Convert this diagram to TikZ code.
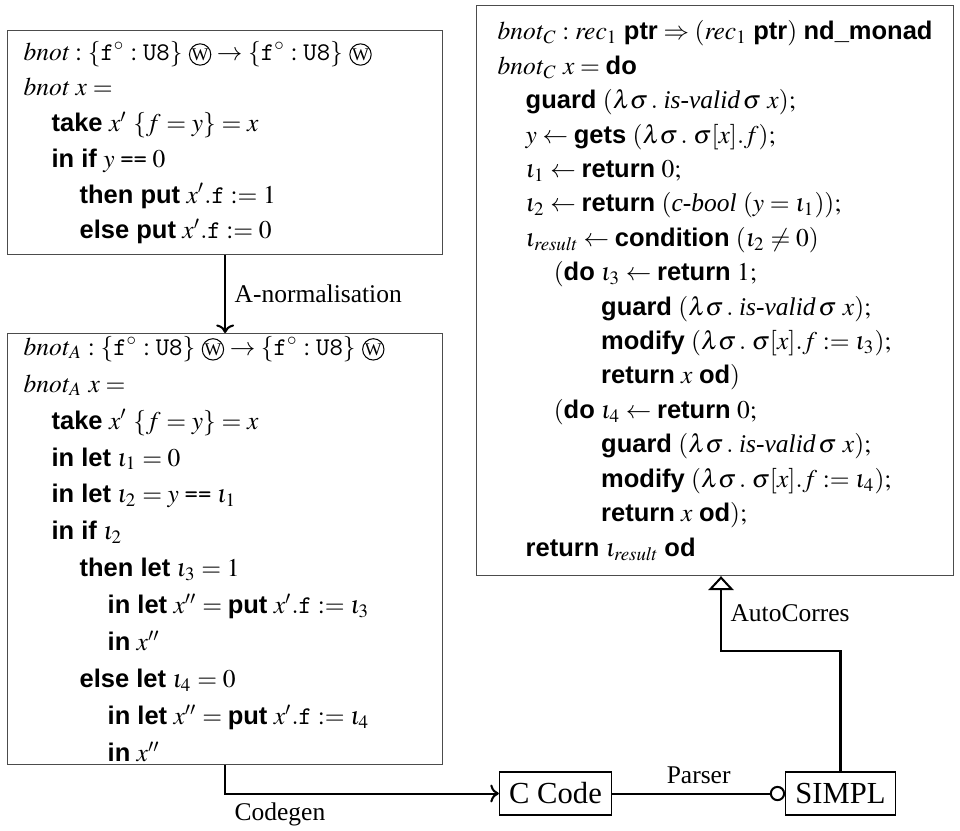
\documentclass[tikz,border=0pt]{standalone}
\usepackage{mathptmx}
\usepackage{fontspec}
\setmainfont{Liberation Serif}
\setsansfont{Liberation Sans}
\usetikzlibrary{arrows.meta}

% keywords in bold sans, indentation step, typewriter field name
\newcommand{\kw}[1]{\textsf{\bfseries #1}}
\newcommand{\ind}{\hspace*{11pt}}
\newcommand{\ttf}{\texttt{f}}
% circled W (writable record)
\newcommand{\cw}{\mbox{\tikz[baseline=(wmark.base), x=1pt, y=1pt]
  \node[circle, draw=black, line width=0.4pt, inner sep=0.1pt,
        font=\fontsize{7}{7}\selectfont] (wmark) {W};}}
\newcommand{\ufield}{\{\ttf^{\circ}:\texttt{U8}\}}
\newcommand{\dopad}{\phantom{(\kw{do}\ }}

\begin{document}
\begin{tikzpicture}[x=0.3922pt,y=-0.3922pt,
  codebox/.style={draw=black!70, line width=0.5pt, inner sep=0pt, anchor=north west},
  codetext/.style={align=left, inner sep=0pt, anchor=west},
  smallbox/.style={draw=black, line width=0.5pt, inner xsep=3.8pt, minimum height=16.9pt,
    font=\fontsize{12}{14}\selectfont},
  conn/.style={line width=0.8pt, draw=black},
  lbl/.style={font=\fontsize{10}{12}\selectfont}]
\useasboundingbox (0,0) rectangle (960,830);

% ---- source COGENT function
\node[codebox, minimum width=170.6pt, minimum height=87.85pt] (b1) at (7,30) {};
\node[codetext, font=\fontsize{10}{14}\selectfont] (t1) at ([xshift=6.3pt]b1.west) {%
$\mathit{bnot}:\ufield\ \cw\to\ufield\ \cw$\\
$\mathit{bnot}\ x=$\\
\ind$\kw{take}\ x'\ \{f=y\}=x$\\
\ind$\kw{in if}\ y\mathrel{\texttt{==}}0$\\
\ind\ind$\kw{then put}\ x'.\ttf:=1$\\
\ind\ind$\kw{else put}\ x'.\ttf:=0$};

% ---- A-normal form
\node[codebox, minimum width=170.6pt, minimum height=169pt] (b2) at (7,333) {};
\node[codetext, font=\fontsize{10}{14.5}\selectfont] (t2) at ([xshift=6.3pt]b2.west) {%
$\mathit{bnot}_A:\ufield\ \cw\to\ufield\ \cw$\\
$\mathit{bnot}_A\ x=$\\
\ind$\kw{take}\ x'\ \{f=y\}=x$\\
\ind$\kw{in let}\ \iota_1=0$\\
\ind$\kw{in let}\ \iota_2=y\mathrel{\texttt{==}}\iota_1$\\
\ind$\kw{in if}\ \iota_2$\\
\ind\ind$\kw{then let}\ \iota_3=1$\\
\ind\ind\ind$\kw{in let}\ x''=\kw{put}\ x'.\ttf:=\iota_3$\\
\ind\ind\ind$\kw{in}\ x''$\\
\ind\ind$\kw{else let}\ \iota_4=0$\\
\ind\ind\ind$\kw{in let}\ x''=\kw{put}\ x'.\ttf:=\iota_4$\\
\ind\ind\ind$\kw{in}\ x''$};

% ---- monadic C embedding
\node[codebox, minimum width=187.1pt, minimum height=223.5pt] (b3) at (476,5) {};
\node[codetext, font=\fontsize{10}{13.5}\selectfont] (t3) at ([xshift=8.3pt]b3.west) {%
$\mathit{bnot}_C:\mathit{rec}_1\ \kw{ptr}\Rightarrow(\mathit{rec}_1\ \kw{ptr})\ \kw{nd\_monad}$\\
$\mathit{bnot}_C\ x=\kw{do}$\\
\ind$\kw{guard}\ (\lambda\sigma\,.\;\textit{is-valid}\,\sigma\ x);$\\
\ind$y\leftarrow\kw{gets}\ (\lambda\sigma\,.\;\sigma[x].f);$\\
\ind$\iota_1\leftarrow\kw{return}\ 0;$\\
\ind$\iota_2\leftarrow\kw{return}\ (\textit{c-bool}\ (y=\iota_1));$\\
\ind$\iota_{\mathit{result}}\leftarrow\kw{condition}\ (\iota_2\neq0)$\\
\ind\ind$(\kw{do}\ \iota_3\leftarrow\kw{return}\ 1;$\\
\ind\ind$\dopad\kw{guard}\ (\lambda\sigma\,.\;\textit{is-valid}\,\sigma\ x);$\\
\ind\ind$\dopad\kw{modify}\ (\lambda\sigma\,.\;\sigma[x].f:=\iota_3);$\\
\ind\ind$\dopad\kw{return}\ x\ \kw{od})$\\
\ind\ind$(\kw{do}\ \iota_4\leftarrow\kw{return}\ 0;$\\
\ind\ind$\dopad\kw{guard}\ (\lambda\sigma\,.\;\textit{is-valid}\,\sigma\ x);$\\
\ind\ind$\dopad\kw{modify}\ (\lambda\sigma\,.\;\sigma[x].f:=\iota_4);$\\
\ind\ind$\dopad\kw{return}\ x\ \kw{od});$\\
\ind$\kw{return}\ \iota_{\mathit{result}}\ \kw{od}$};

% ---- C code and SIMPL
\node[smallbox] (ccode) at (555.5,793.5) {C Code};
\node[smallbox] (simpl) at (840.5,793.5) {SIMPL};
\coordinate (acbend) at (721,651);

% ---- connectors
\draw[conn,->] (b1.south) -- (b2.north)
  node[lbl, midway, right] {A-normalisation};
\draw[conn,->] (b2.south) |- (ccode.west)
  node[lbl, pos=0.5, below right] {Codegen};
\draw[conn,-{Circle[open,length=6pt,width=6pt]}] (ccode.east) -- (simpl.west)
  node[lbl, midway, above] {Parser};
\draw[conn,-{Triangle[open,width=10pt,length=5.5pt]}] (simpl.north) |- (acbend)
  -- (acbend |- b3.south) node[lbl, midway, right] {AutoCorres};
\end{tikzpicture}
\end{document}
